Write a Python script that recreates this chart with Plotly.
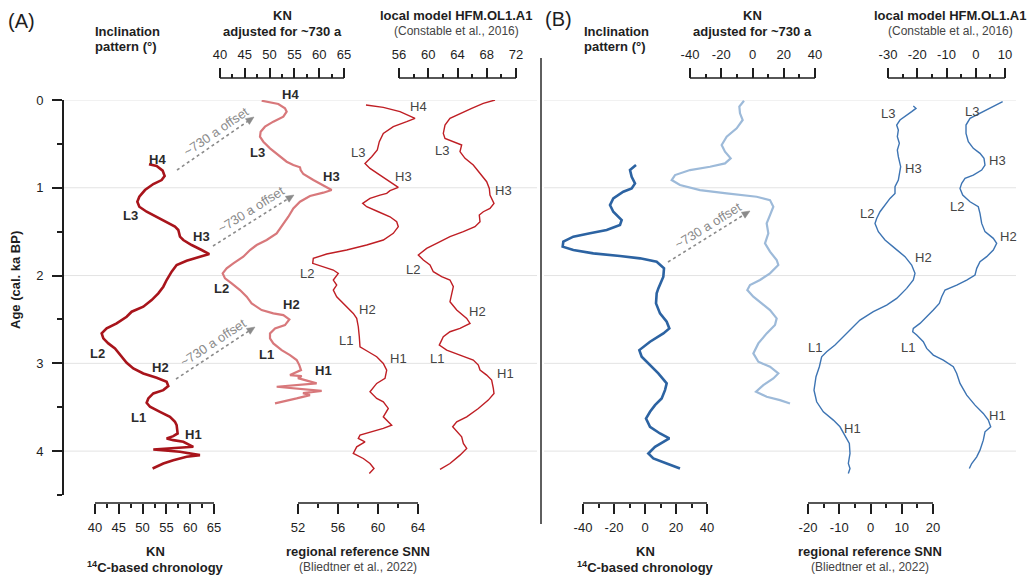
import math
import plotly.graph_objects as go

W, H = 1035, 576          # browser window (reference pixel frame)
OFF = 8                   # default page margin that offsets the figure
WF, HF = W - OFF, H - OFF # figure size
FONT = "Liberation Sans, Arial, sans-serif"

# ---------------- data (age in cal. ka BP, values in degrees) ----------------
# Panel A - inclination
age_A_kn14c = [0.733,0.752,0.805,0.866,0.912,0.957,1.026,1.102,1.159,1.216,1.273,1.33,1.387,1.443,1.481,1.519,1.557,1.595,1.652,1.709,
               1.755,1.785,1.831,1.88,1.956,2.051,2.127,2.203,2.279,2.355,2.412,2.469,2.545,2.602,2.659,2.716,2.773,2.83,2.925,2.993,
               3.058,3.115,3.164,3.21,3.259,3.305,3.343,3.4,3.449,3.495,3.552,3.609,3.666,3.704,3.799,3.829,3.856,3.875,3.894,3.951,
               3.981,4.008,4.046,4.065,4.103,4.141,4.198]
inc_A_kn14c = [51.34,52.95,54.21,54.63,54.0,52.25,50.5,49.31,48.89,49.31,50.85,52.95,55.05,56.8,57.5,57.71,57.85,58.55,60.3,62.4,
               64.01,62.05,59.25,57.15,56.1,55.05,54.35,53.3,51.9,50.15,47.7,46.65,44.55,42.45,41.4,41.75,42.8,44.2,45.6,46.65,
               48.05,50.15,52.95,55.05,55.4,54.35,52.25,51.2,50.85,51.55,53.65,55.75,56.8,57.15,57.36,56.45,55.05,56.45,58.55,60.65,
               52.25,57.85,62.05,59.25,56.45,54.35,52.1]

age_A_knadj = [0.008,0.046,0.095,0.133,0.19,0.247,0.304,0.361,0.418,0.475,0.551,0.627,0.703,0.741,0.767,0.798,0.843,0.912,0.969,1.026,
               1.056,1.094,1.159,1.235,1.33,1.406,1.519,1.595,1.652,1.709,1.785,1.861,1.918,1.975,2.032,2.089,2.165,2.241,2.317,2.393,
               2.431,2.45,2.5,2.564,2.602,2.659,2.716,2.773,2.849,2.906,2.963,3.02,3.077,3.134,3.145,3.168,3.228,3.267,3.313,3.339,
               3.362,3.4,3.456]
inc_A_knadj = [48.4,51.76,53.1,53.44,52.77,50.75,49.07,48.2,48.06,48.74,50.08,51.76,53.44,54.78,56.13,56.26,56.8,58.82,60.83,62.51,
               60.83,58.14,56.13,54.78,53.78,52.77,51.42,49.41,47.39,46.05,44.7,42.69,41.34,40.54,41.01,42.35,44.03,45.38,46.38,48.4,
               50.75,52.77,53.98,53.1,51.09,50.08,50.08,50.75,52.43,54.11,55.46,55.99,56.33,54.11,56.47,55.72,59.49,51.43,60.5,56.73,
               58.14,55.46,51.09]

age_A_snn = [0.057,0.084,0.133,0.209,0.247,0.304,0.38,0.475,0.57,0.646,0.722,0.779,0.855,0.931,0.995,1.033,1.064,1.083,1.121,1.178,
             1.216,1.273,1.33,1.387,1.443,1.519,1.595,1.652,1.709,1.755,1.804,1.861,1.899,1.937,1.975,2.051,2.108,2.165,2.241,2.317,
             2.431,2.488,2.583,2.697,2.811,2.868,2.925,3.001,3.077,3.172,3.229,3.324,3.4,3.438,3.514,3.609,3.704,3.742,3.78,3.818,
             3.856,3.894,3.951,4.027,4.084,4.141,4.198,4.255]
inc_A_snn = [58.8,60.53,62.2,63.7,62.87,61.53,60.53,60.13,59.93,59.37,58.7,59.2,60.2,61.2,62.03,61.2,60.87,60.2,59.2,58.47,
             58.87,60.03,61.2,61.87,62.03,61.53,60.53,58.87,56.87,54.87,53.53,53.47,54.53,55.53,56.03,55.53,55.87,55.53,55.87,56.53,
             57.53,57.87,58.03,58.13,58.2,59.03,59.87,60.53,60.87,60.7,59.87,59.2,59.87,60.53,61.03,60.53,61.37,60.53,59.37,58.2,
             58.03,58.7,57.87,57.53,58.53,59.2,59.6,59.13]

age_A_local = [0,0.038,0.095,0.152,0.209,0.285,0.38,0.437,0.475,0.513,0.589,0.665,0.741,0.836,0.931,1.007,1.083,1.178,1.235,1.273,
               1.311,1.387,1.443,1.5,1.557,1.633,1.69,1.766,1.823,1.88,1.956,2.013,2.051,2.127,2.203,2.298,2.393,2.488,2.545,2.602,
               2.64,2.697,2.792,2.849,2.906,2.963,3.02,3.077,3.134,3.191,3.286,3.343,3.419,3.514,3.609,3.666,3.723,3.78,3.837,3.913,
               3.97,4.046,4.141,4.209]
inc_A_local = [69.13,67.53,65.94,64.34,62.97,62.29,62.06,62.29,63.43,64.57,64.34,65.03,66.16,67.08,67.99,68.35,68.44,68.99,68.44,67.53,
               66.98,67.08,66.39,64.8,62.97,61.15,59.78,58.64,59.33,60.24,60.69,61.83,62.97,63.43,63.2,62.97,63.89,65.26,65.71,64.34,
               62.97,62.06,61.51,62.52,64.34,66.16,66.85,67.08,67.99,68.67,68.9,68.99,68.21,66.85,65.26,63.89,63.34,63.89,64.57,64.8,
               65.26,64.34,62.97,61.61]

# Panel B
age_B_kn14c = [0.741,0.798,0.874,0.95,1.007,1.045,1.121,1.197,1.273,1.368,1.424,1.481,1.519,1.557,1.614,1.671,1.709,1.747,1.778,1.804,
               1.842,1.918,2.013,2.089,2.146,2.203,2.317,2.431,2.526,2.602,2.659,2.754,2.849,2.925,3.02,3.115,3.229,3.305,3.4,3.476,
               3.552,3.628,3.723,3.799,3.856,3.894,3.951,4.027,4.084,4.141,4.198]
val_B_kn14c = [-5.8,-9.68,-8.6,-6.45,-8.6,-14.0,-20.45,-22.58,-20.45,-15.05,-16.13,-24.73,-35.48,-46.24,-52.69,-53.12,-46.24,-33.35,-16.13,-3.22,
               7.53,12.26,11.83,9.68,8.6,7.53,7.1,9.68,14.0,15.7,11.83,3.23,-3.65,-2.15,3.23,8.6,14.0,12.9,10.75,6.45,
               3.23,0.65,3.23,9.68,15.7,11.83,6.45,2.15,5.38,14.0,22.58]

age_B_knadj = [0.008,0.076,0.152,0.228,0.323,0.418,0.513,0.589,0.665,0.722,0.76,0.798,0.855,0.912,0.969,1.026,1.064,1.102,1.14,1.216,
               1.311,1.406,1.519,1.633,1.728,1.823,1.88,1.975,2.051,2.108,2.165,2.241,2.317,2.393,2.488,2.564,2.659,2.773,2.887,2.982,
               3.039,3.115,3.172,3.248,3.324,3.381,3.419,3.457]
val_B_knadj = [-5.44,-8.43,-8.0,-6.29,-10.13,-16.53,-19.73,-17.6,-13.97,-17.6,-27.2,-40.0,-49.6,-51.73,-46.4,-33.6,-16.53,2.67,11.2,13.33,
               11.2,9.07,10.13,8.0,11.2,15.47,16.53,11.2,4.8,-1.6,-3.31,0.53,5.87,11.2,15.47,14.4,9.07,3.73,0.53,3.73,
               11.2,16.53,13.33,6.93,2.24,9.07,17.6,24.0]

age_B_snn = [0.068,0.095,0.133,0.171,0.228,0.285,0.342,0.418,0.494,0.57,0.646,0.76,0.836,0.912,0.988,1.064,1.121,1.197,1.273,1.349,
             1.406,1.5,1.595,1.69,1.785,1.88,1.975,2.051,2.146,2.26,2.336,2.412,2.507,2.621,2.716,2.792,2.868,2.925,3.039,3.153,
             3.305,3.438,3.552,3.647,3.723,3.818,3.913,4.027,4.141,4.198,4.255]
val_B_snn = [13.7,14.56,13.17,11.57,9.44,8.37,8.91,8.59,9.23,8.59,8.91,9.65,9.23,8.91,7.84,7.84,6.24,4.64,3.04,1.97,
             1.44,2.51,4.64,7.84,11.04,13.17,14.24,13.7,11.57,8.37,5.17,0.91,-3.36,-6.56,-9.23,-11.36,-14.03,-15.63,-16.37,-17.44,
             -18.08,-17.23,-15.09,-11.89,-9.76,-8.16,-6.77,-6.56,-7.09,-6.56,-7.09]

age_B_local = [0.019,0.076,0.152,0.209,0.285,0.38,0.475,0.551,0.608,0.665,0.741,0.798,0.855,0.893,0.95,1.007,1.083,1.159,1.216,1.292,
               1.406,1.5,1.576,1.633,1.709,1.785,1.842,1.918,1.994,2.051,2.108,2.165,2.241,2.317,2.393,2.469,2.545,2.602,2.64,2.678,
               2.754,2.83,2.906,2.963,3.039,3.115,3.229,3.362,3.476,3.571,3.647,3.723,3.78,3.875,3.989,4.065,4.141,4.198]
val_B_local = [9.2,6.0,1.45,-1.96,-3.33,-3.33,-2.54,-0.83,1.45,2.82,3.16,2.03,-0.83,-3.67,-4.8,-5.38,-4.46,-1.96,0.87,1.45,
               2.03,3.16,6.0,7.16,6.0,3.74,1.45,0.33,-0.25,-3.09,-6.51,-10.51,-11.64,-12.46,-14.51,-16.77,-19.06,-21.35,-21.56,-20.19,
               -17.93,-16.77,-14.51,-11.09,-7.67,-6.51,-5.38,-3.09,-0.25,2.58,4.29,5.11,3.16,2.58,1.45,0.33,-1.38,-2.2]

age_ticks = [0, 1, 2, 3, 4]
age_minor = [0.5, 1.5, 2.5, 3.5, 4.5]

# ---------------- helpers (window pixels -> paper fractions) ----------------
def xp(x):
    return (x - OFF) / WF

def yp(y):
    return 1 - (y - OFF) / HF

# axis id -> calibration (value1, pixel1, value2, pixel2), baseline pixel y, side, major ticks, minor ticks
AXES = {
    "x":  dict(cal=(40, 95, 65, 214),  ypix=503, side="bottom", major=[40, 45, 50, 55, 60, 65], minor=[42.5, 47.5, 52.5, 57.5, 62.5]),
    "x2": dict(cal=(52, 298, 64, 418), ypix=503, side="bottom", major=[52, 56, 60, 64], minor=[54, 58, 62]),
    "x3": dict(cal=(40, 220, 65, 344), ypix=78,  side="top",    major=[40, 45, 50, 55, 60, 65], minor=[42.5, 47.5, 52.5, 57.5, 62.5]),
    "x4": dict(cal=(56, 399, 72, 516), ypix=78,  side="top",    major=[56, 60, 64, 68, 72], minor=[58, 62, 66, 70]),
    "x5": dict(cal=(-40, 583, 40, 707), ypix=503, side="bottom", major=[-40, -20, 0, 20, 40], minor=[-30, -10, 10, 30]),
    "x6": dict(cal=(-20, 808, 20, 933), ypix=503, side="bottom", major=[-20, -10, 0, 10, 20], minor=[-15, -5, 5, 15]),
    "x7": dict(cal=(-40, 690, 40, 815), ypix=78,  side="top",    major=[-40, -20, 0, 20, 40], minor=[-30, -10, 10, 30]),
    "x8": dict(cal=(-30, 888, 10, 1005), ypix=78, side="top",    major=[-30, -20, -10, 0, 10], minor=[-25, -15, -5, 5]),
}

INK = "#1e1e1e"
fig = go.Figure()
layout_axes = {}
shapes = []
for ax_id, d in AXES.items():
    v1, p1, v2, p2 = d["cal"]
    p1, p2 = p1 - OFF, p2 - OFF
    s = (v2 - v1) / (p2 - p1)
    rng = [v1 - p1 * s, v1 + (WF - p1) * s]
    key = "xaxis" if ax_id == "x" else "xaxis" + ax_id[1:]
    ax = dict(domain=[0, 1], range=rng, anchor="free", position=yp(d["ypix"]), side=d["side"],
              showline=False, showgrid=False, zeroline=False, automargin=False, fixedrange=True,
              ticks="outside", ticklen=10, tickwidth=1.5, tickcolor=INK,
              tickmode="array", tickvals=d["major"], ticktext=[str(v) for v in d["major"]],
              tickfont=dict(size=13, color=INK, family=FONT),
              ticklabelstandoff=4 if d["side"] == "top" else 2,
              minor=dict(tickmode="array", tickvals=d["minor"], ticks="outside", ticklen=4,
                         tickwidth=1.5, tickcolor=INK, showgrid=False))
    if ax_id != "x":
        ax["overlaying"] = "x"
    layout_axes[key] = ax
    shapes.append(dict(type="line", xref=ax_id, yref="paper", x0=d["major"][0], x1=d["major"][-1],
                       y0=yp(d["ypix"]), y1=yp(d["ypix"]), line=dict(color=INK, width=1.5)))

# horizontal grid lines
for a in age_ticks:
    for x0, x1 in [(63, 537), (544, 1016)]:
        shapes.append(dict(type="line", xref="paper", yref="y", x0=xp(x0), x1=xp(x1), y0=a, y1=a,
                           line=dict(color="#e3e3e3", width=1), layer="below"))
# panel separator
shapes.append(dict(type="line", xref="paper", yref="paper", x0=xp(541), x1=xp(541), y0=yp(58), y1=yp(524),
                   line=dict(color="#2a2a2a", width=1.5)))

# ---------------- traces ----------------
series = [
    (inc_A_kn14c, age_A_kn14c, "x",  "#a8141b", 2.6),
    (inc_A_knadj, age_A_knadj, "x3", "#d8787b", 2.2),
    (inc_A_snn,   age_A_snn,   "x2", "#bf1e24", 1.4),
    (inc_A_local, age_A_local, "x4", "#bf1e24", 1.4),
    (val_B_kn14c, age_B_kn14c, "x5", "#2c63a2", 2.6),
    (val_B_knadj, age_B_knadj, "x7", "#9dbad9", 2.2),
    (val_B_snn,   age_B_snn,   "x6", "#3d74b3", 1.4),
    (val_B_local, age_B_local, "x8", "#3d74b3", 1.4),
]
for xs, ys, ax_id, col, w in series:
    fig.add_trace(go.Scatter(x=xs, y=ys, xaxis=ax_id, yaxis="y", mode="lines",
                             line=dict(color=col, width=w), hoverinfo="skip", showlegend=False))

# ---------------- text ----------------
def T(x, y, text, size=13, color=INK, bold=False, xanchor="center", angle=0):
    if bold:
        text = "<b>" + text + "</b>"
    fig.add_annotation(x=xp(x), y=yp(y), xref="paper", yref="paper", text=text, showarrow=False,
                       font=dict(size=size, color=color, family=FONT), xanchor=xanchor, yanchor="middle",
                       textangle=angle)

# panel letters
T(21, 21, "(A)", size=20)
T(558, 19, "(B)", size=20)

for x0 in (93, 582):
    T(x0, 31, "Inclination", bold=True, xanchor="left")
    T(x0, 47, "pattern (°)", bold=True, xanchor="left")

for cx in (282, 752):
    T(cx, 16, "KN", bold=True)
    T(cx, 31, "adjusted for ~730 a", bold=True)
for cx in (456, 950):
    T(cx, 16, "local model HFM.OL1.A1", bold=True)
    T(cx, 31, "(Constable et al., 2016)", size=12, color="#444")
for cx in (155, 645):
    T(cx, 551, "KN", bold=True)
    T(cx, 567, "<sup>14</sup>C-based chronology", bold=True)
for cx in (358, 870):
    T(cx, 551, "regional reference SNN", bold=True)
    T(cx, 567, "(Bliedtner et al., 2022)", size=12, color="#444")

T(15, 280, "Age (cal. ka BP)", bold=True, angle=-90)

# feature labels
bold_labels = [("H4", 157, 159), ("L3", 130, 216), ("H3", 201, 236), ("L2", 97, 353), ("H2", 160, 367),
               ("L1", 138, 417), ("H1", 193, 434),
               ("H4", 290, 94), ("L3", 257, 153), ("H3", 331, 176), ("L2", 221, 288), ("H2", 291, 304),
               ("L1", 266, 354), ("H1", 323, 370)]
for s, x, y in bold_labels:
    T(x, y, s, bold=True, color="#2b2b2b")
plain_labels = [("H4", 418, 107), ("L3", 358, 152), ("H3", 403, 176), ("L2", 307, 273), ("H2", 367, 309),
                ("L1", 346, 340), ("H1", 398, 358),
                ("L3", 442, 150), ("H3", 503, 191), ("L2", 413, 270), ("H2", 477, 311), ("L1", 437, 358), ("H1", 505, 373),
                ("L3", 888, 113), ("H3", 913, 168), ("L2", 867, 213), ("H2", 923, 257), ("L1", 815, 347), ("H1", 852, 428),
                ("L3", 972, 111), ("H3", 997, 160), ("L2", 957, 207), ("H2", 1008, 237), ("L1", 908, 347), ("H1", 997, 415)]
for s, x, y in plain_labels:
    T(x, y, s, color="#444")

# offset arrows (dashed line + filled head + rotated label)
GREY = "#8a8a8a"
def offset_arrow(x0, y0, x1, y1, tx, ty):
    dx, dy = x1 - x0, y1 - y0
    L = math.hypot(dx, dy)
    ux, uy = dx / L, dy / L
    nx, ny = -uy, ux
    shapes.append(dict(type="line", xref="paper", yref="paper", x0=xp(x0), y0=yp(y0),
                       x1=xp(x1 - ux * 6), y1=yp(y1 - uy * 6), line=dict(color=GREY, width=1.6, dash="3px,3px")))
    bx, by = x1 - ux * 8, y1 - uy * 8
    pts = [(x1, y1), (bx + nx * 3.5, by + ny * 3.5), (bx - nx * 3.5, by - ny * 3.5)]
    path = "M " + " L ".join(f"{xp(a):.5f},{yp(b):.5f}" for a, b in pts) + " Z"
    shapes.append(dict(type="path", xref="paper", yref="paper", path=path,
                       fillcolor=GREY, line=dict(color=GREY, width=0.5)))
    ang = math.degrees(math.atan2(dy, dx))
    T(tx, ty, "~730 a offset", size=13, color=GREY, angle=ang)

offset_arrow(177, 170, 254, 117, 216, 131)
offset_arrow(213, 246, 294, 195, 251, 209)
offset_arrow(176, 379, 255, 327, 213, 342)
offset_arrow(668, 262, 750, 211, 708, 225)

fig.update_layout(
    width=WF, height=HF, margin=dict(l=0, r=0, t=0, b=0),
    paper_bgcolor="white", plot_bgcolor="rgba(0,0,0,0)",
    showlegend=False, shapes=shapes,
    yaxis=dict(domain=[yp(495), yp(100)], range=[4.5, 0], anchor="free", position=xp(63),
               showline=True, linewidth=2, linecolor=INK, showgrid=False, zeroline=False,
               automargin=False, fixedrange=True,
               ticks="outside", ticklen=10, tickwidth=1.5, tickcolor=INK,
               tickmode="array", tickvals=age_ticks, ticktext=[str(a) for a in age_ticks],
               tickfont=dict(size=13, color=INK, family=FONT), ticklabelstandoff=6,
               minor=dict(tickmode="array", tickvals=age_minor, ticks="outside", ticklen=5,
                          tickwidth=1.5, tickcolor=INK, showgrid=False)),
    **layout_axes,
)

fig.write_html("out.html")
